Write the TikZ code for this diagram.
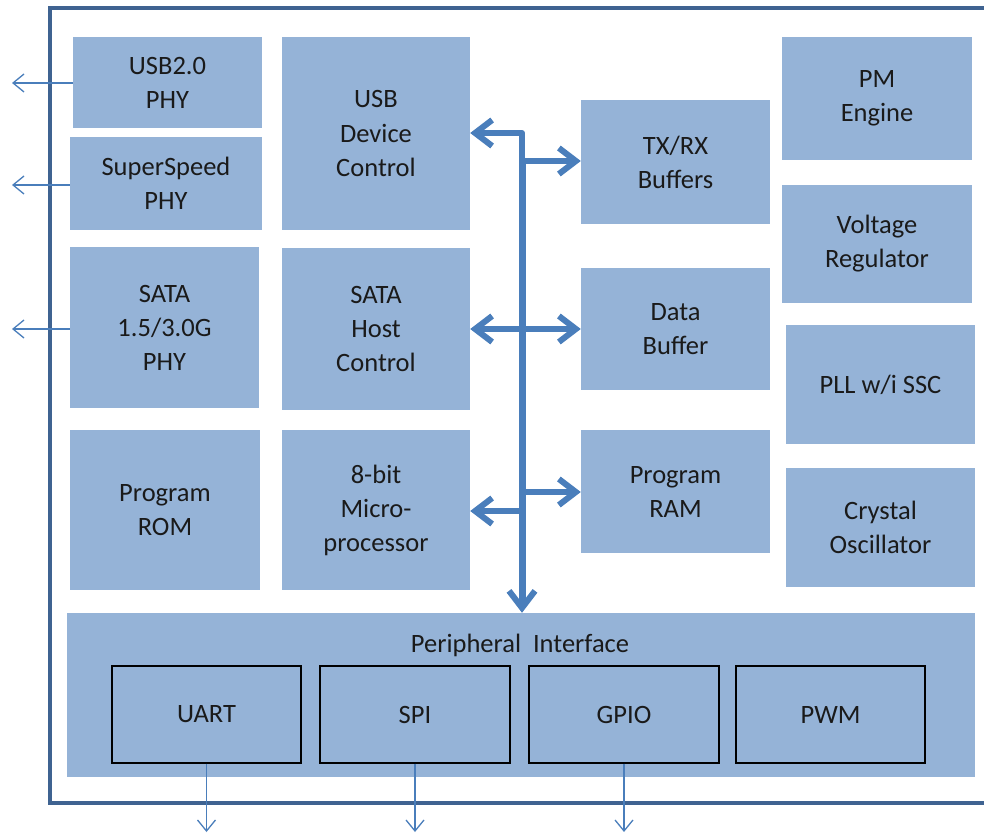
\documentclass[tikz,border=0pt]{standalone}
\usepackage{fontspec}
\setmainfont{Carlito}
\usetikzlibrary{arrows.meta,fit}
\definecolor{boxfill}{HTML}{95B3D7}
\definecolor{framec}{HTML}{3F6391}
\definecolor{busc}{HTML}{4A7EBB}
\definecolor{txt}{HTML}{1A1A1A}
\tikzset{
  blk/.style={fill=boxfill, draw=none, inner sep=0pt, align=center, text=txt,
    font=\fontsize{26.5}{34}\selectfont},
  sub/.style={blk, draw=black, line width=1.3pt},
  bus/.style={draw=busc, line width=6pt, line cap=butt, line join=round,
    arrows={-{Straight Barb[length=17pt,width=26pt]}}},
  busboth/.style={bus, arrows={{Straight Barb[length=17pt,width=26pt]}-{Straight Barb[length=17pt,width=26pt]}}},
  thin/.style={draw=busc, line width=1.3pt, -{Straight Barb[length=11pt,width=18pt]}}
}
\begin{document}
\begin{tikzpicture}[x=1pt,y=-1pt]
\useasboundingbox (0,0) rectangle (984,834);
% frame
\draw[framec, line width=4pt] (984,8) -- (50,8) -- (50,803) -- (984,803);
% left column
\node[blk, fit={(73,37) (262,128)}] (usb2) {};
\node[blk] at (usb2.center) {USB2.0\\PHY};
\node[blk, fit={(70,137) (262,230)}] (ssphy) {};
\node[blk] at (ssphy.center) {SuperSpeed\\PHY};
\node[blk, fit={(70,247) (259,408)}] (sataphy) {};
\node[blk] at (sataphy.center) {SATA\\1.5/3.0G\\PHY};
\node[blk, fit={(70,430) (260,590)}] (rom) {};
\node[blk] at (rom.center) {Program\\ROM};
% second column
\node[blk, fit={(282,37) (470,230)}] (usbdev) {};
\node[blk] at (usbdev.center) {USB\\Device\\Control};
\node[blk, fit={(282,248) (470,410)}] (satahost) {};
\node[blk] at (satahost.center) {SATA\\Host\\Control};
\node[blk, fit={(282,430) (470,590)}] (mcu) {};
\node[blk] at (mcu.center) {8-bit\\Micro-\\processor};
% third column
\node[blk, fit={(581,100) (770,224)}] (txrx) {};
\node[blk] at (txrx.center) {TX/RX\\Buffers};
\node[blk, fit={(581,268) (770,390)}] (dbuf) {};
\node[blk] at (dbuf.center) {Data\\Buffer};
\node[blk, fit={(581,430) (770,553)}] (ram) {};
\node[blk] at (ram.center) {Program\\RAM};
% right column
\node[blk, fit={(782,37) (972,160)}] (pm) {};
\node[blk] at (pm.center) {PM\\Engine};
\node[blk, fit={(782,185) (972,303)}] (vreg) {};
\node[blk] at (vreg.center) {Voltage\\Regulator};
\node[blk, fit={(786,325) (975,444)}] (pll) {};
\node[blk] at (pll.center) {PLL w/i SSC};
\node[blk, fit={(786,468) (975,587)}] (xo) {};
\node[blk] at (xo.center) {Crystal\\Oscillator};
% peripheral interface
\node[blk, fit={(67,613) (975,777)}] (periph) {};
\node[blk] (ptitle) at (520,645) {Peripheral~~Interface};
\node[sub, fit={(112,666) (301,763)}] (uart) {};
\node[blk, fill=none] at (uart.center) {UART};
\node[sub, fit={(320,666) (510,763)}] (spi) {};
\node[blk, fill=none] at (spi.center) {SPI};
\node[sub, fit={(529,666) (719,763)}] (gpio) {};
\node[blk, fill=none] at (gpio.center) {GPIO};
\node[sub, fit={(736,666) (925,763)}] (pwm) {};
\node[blk, fill=none] at (pwm.center) {PWM};
% bus
\coordinate (bt) at (522,161);
\draw[bus, arrows={-}, line width=7pt] (522,158) -- (522,600);
\draw[bus] (522,590) -- (periph.north -| 522,0);
\draw[busboth] (usbdev.east |- 0,133) -| (bt) -- (txrx.west |- bt);
\draw[busboth] (satahost.east |- 0,329) -- (dbuf.west |- 0,329);
\draw[busboth] (mcu.east |- 0,511) -| (522,492) -- (ram.west |- 0,492);
% external thin arrows
\coordinate (o1) at (12,83);
\coordinate (o2) at (12,185);
\coordinate (o3) at (12,329);
\draw[thin] (usb2.west |- o1) -- (o1);
\draw[thin] (ssphy.west |- o2) -- (o2);
\draw[thin] (sataphy.west |- o3) -- (o3);
\coordinate (d1) at (uart.south |- 0,832);
\coordinate (d2) at (spi.south |- 0,832);
\coordinate (d3) at (gpio.south |- 0,832);
\draw[thin] (uart.south) -- (d1);
\draw[thin] (spi.south) -- (d2);
\draw[thin] (gpio.south) -- (d3);
\end{tikzpicture}
\end{document}
